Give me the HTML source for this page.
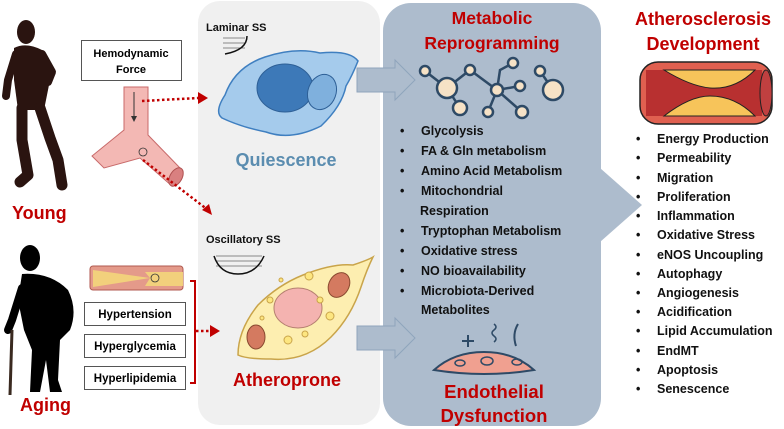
<!DOCTYPE html>
<html><head><meta charset="utf-8"><style>
body{margin:0;background:#fff}
svg{display:block}
text{font-family:"Liberation Sans",sans-serif;font-weight:bold}
.r{fill:#c00000}
.b{font-size:12.5px;fill:#111}
</style></head><body>
<svg width="784" height="429" viewBox="0 0 784 429">
<rect x="198" y="1" width="182" height="424" rx="22" fill="#f0f0f0"/>
<rect x="383" y="3" width="218" height="423" rx="28" fill="#adbccd"/>
<polygon points="600,186 600,168 642,205 600,242 600,226" fill="#adbccd"/>
<g fill="#adbccd" stroke="#8fa4bc" stroke-width="1">
<polygon points="357,68 395,68 395,60 415,80 395,100 395,92 357,92"/>
<polygon points="357,326 395,326 395,318 415,338 395,358 395,350 357,350"/>
</g>
<!-- young silhouette -->
<g fill="#2a1410" stroke="#2a1410" stroke-linecap="round" stroke-linejoin="round">
<ellipse cx="26" cy="32" rx="9" ry="12" stroke="none"/>
<path d="M14,48 Q26,42 42,50 L50,80 L46,100 L44,110 L18,110 L14,80Z" stroke="none"/>
<path d="M16,54 L8,80 L6,96" fill="none" stroke-width="8"/>
<path d="M42,54 L52,72 L48,82" fill="none" stroke-width="8"/>
<path d="M22,108 L22,140 L28,175 L20,182" fill="none" stroke-width="11"/>
<path d="M40,108 L50,138 L58,160 L62,185" fill="none" stroke-width="11"/>
</g>
<!-- old silhouette -->
<g fill="#000" stroke="#000" stroke-linecap="round" stroke-linejoin="round">
<ellipse cx="30" cy="258" rx="10" ry="13" stroke="none"/>
<path d="M22,274 Q50,272 68,290 Q78,310 70,330 L60,340 L58,380 L62,392 L50,392 L46,360 L40,392 L30,392 L32,350 L24,330 L18,300Z" stroke="none"/>
<path d="M22,288 L12,320 L8,330" fill="none" stroke-width="8"/>
</g>
<line x1="12" y1="330" x2="10" y2="395" stroke="#3a2a20" stroke-width="3"/>
<text x="12" y="219" class="r" font-size="18">Young</text>
<text x="20" y="411" class="r" font-size="18">Aging</text>
<rect x="81.5" y="40.5" width="100" height="40" fill="#fff" stroke="#555"/>
<text x="131" y="57" text-anchor="middle" font-size="11">Hemodynamic</text>
<text x="131" y="73" text-anchor="middle" font-size="11">Force</text>
<path d="M124,87 L148,87 L148,135 L180,168 L172,186 L140,158 L104,168 L92,156 L124,130Z" fill="#f3b8b4" stroke="#c86a6a"/>
<ellipse cx="176" cy="177" rx="6" ry="10" fill="#d98080" stroke="#b05050" transform="rotate(30 176 177)"/>
<line x1="134" y1="92" x2="134" y2="120" stroke="#333"/>
<path d="M131,116 l3,6 l3,-6z" fill="#333"/>
<circle cx="143" cy="152" r="4" fill="none" stroke="#333" stroke-width=".8"/>
<g stroke="#c00000" stroke-width="2.5" stroke-dasharray="2.5,2.5" fill="none">
<line x1="142" y1="101" x2="198" y2="98"/>
<line x1="143" y1="160" x2="208" y2="210"/>
<line x1="196" y1="331" x2="210" y2="331"/>
</g>
<path d="M198,92 l10,6 l-10,6z M202,210 l10,5 l-3,-11z M210,325 l10,6 l-10,6z" fill="#c00000"/>
<rect x="90" y="266" width="93" height="24" rx="3" fill="#e49a8a" stroke="#b05a50"/>
<path d="M93,270 L150,278 L93,287Z M145,272 L183,272 L183,286 L145,286 L150,278Z" fill="#f3d67a" opacity=".9"/>
<circle cx="155" cy="278" r="4" fill="none" stroke="#333" stroke-width=".8"/>
<g fill="#fff" stroke="#555">
<rect x="84.5" y="302.5" width="101" height="23"/>
<rect x="84.5" y="334.5" width="101" height="23"/>
<rect x="84.5" y="366.5" width="101" height="23"/>
</g>
<text x="135" y="318" text-anchor="middle" font-size="11.5">Hypertension</text>
<text x="135" y="350" text-anchor="middle" font-size="11.5">Hyperglycemia</text>
<text x="135" y="382" text-anchor="middle" font-size="11.5">Hyperlipidemia</text>
<path d="M190,281 H195 V383 H190" fill="none" stroke="#c00000" stroke-width="2"/>
<text x="206" y="31" font-size="11" fill="#111">Laminar SS</text>
<g stroke="#888" stroke-width="1"><line x1="223" y1="38" x2="245" y2="38"/><line x1="223" y1="43" x2="245" y2="43"/><line x1="223" y1="48" x2="245" y2="48"/></g>
<path d="M247,36 q0,14 -22,18" fill="none" stroke="#111" stroke-width="1.5"/>
<path d="M225,95 q10,-28 40,-38 q30,-10 55,-4 q30,-3 38,8 q-6,15 -12,25 q-4,20 -25,40 q-30,15 -55,6 q-25,-5 -44,-14 q-8,-6 3,-23z" fill="#a5cbec" stroke="#3f7fc0" stroke-width="1.5"/>
<ellipse cx="285" cy="88" rx="28" ry="24" fill="#3d79b8" stroke="#2d5f96"/>
<ellipse cx="322" cy="92" rx="14" ry="18" fill="#7fb0dd" stroke="#2d5f96" transform="rotate(20 322 92)"/>
<text x="286" y="166" text-anchor="middle" font-size="18" fill="#5b8db0">Quiescence</text>
<text x="206" y="243" font-size="11" fill="#111">Oscillatory SS</text>
<g stroke="#888"><line x1="216" y1="256" x2="262" y2="256"/><line x1="216" y1="261" x2="262" y2="261"/><line x1="216" y1="266" x2="262" y2="266"/></g>
<path d="M214,256 q6,18 24,18 q18,0 26,-18" fill="none" stroke="#111" stroke-width="1.5"/>
<path d="M238,355 q0,-25 20,-50 q20,-20 45,-30 q30,-12 50,-10 q15,-5 20,-8 q-6,12 -12,30 q-10,30 -30,50 q-25,25 -60,22 q-25,0 -33,-4z" fill="#fdeeb0" stroke="#c9a44a" stroke-width="1.5"/>
<ellipse cx="298" cy="308" rx="24" ry="20" fill="#f4b3b0" stroke="#b58070"/>
<ellipse cx="339" cy="285" rx="10" ry="13" fill="#d47a60" stroke="#8a4a30" transform="rotate(30 339 285)"/>
<ellipse cx="256" cy="337" rx="9" ry="12" fill="#d47a60" stroke="#8a4a30"/>
<g fill="#fde680" stroke="#c9a44a"><circle cx="309" cy="276" r="4"/><circle cx="330" cy="316" r="4"/><circle cx="288" cy="340" r="4"/><circle cx="305" cy="334" r="3"/><circle cx="270" cy="300" r="3"/><circle cx="262" cy="318" r="2"/><circle cx="320" cy="300" r="3"/><circle cx="281" cy="280" r="2"/></g>
<text x="287" y="386" text-anchor="middle" class="r" font-size="18">Atheroprone</text>
<text x="492" y="24" text-anchor="middle" class="r" font-size="17.5">Metabolic</text>
<text x="492" y="49" text-anchor="middle" class="r" font-size="17.5">Reprogramming</text>
<g stroke="#2e4a66" stroke-width="2.5" fill="none">
<path d="M425,71 L447,88 L470,70 L497,90 L500,70 L513,63 M497,90 L520,86 M497,90 L522,112 M497,90 L488,112 M447,88 L460,108 M540,71 L553,90"/>
</g>
<g fill="#f6e2c6" stroke="#2e4a66" stroke-width="2.5">
<circle cx="425" cy="71" r="5"/><circle cx="447" cy="88" r="10"/><circle cx="470" cy="70" r="5"/><circle cx="497" cy="90" r="6"/><circle cx="513" cy="63" r="5"/><circle cx="520" cy="86" r="5"/><circle cx="522" cy="112" r="6"/><circle cx="488" cy="112" r="5"/><circle cx="460" cy="108" r="7"/><circle cx="540" cy="71" r="5"/><circle cx="553" cy="90" r="10"/>
</g>
<g class="b">
<text x="400" y="135">•</text><text x="421" y="135">Glycolysis</text>
<text x="400" y="155">•</text><text x="421" y="155">FA &amp; Gln metabolism</text>
<text x="400" y="175">•</text><text x="421" y="175">Amino Acid Metabolism</text>
<text x="400" y="195">•</text><text x="421" y="195">Mitochondrial</text>
<text x="420" y="215">Respiration</text>
<text x="400" y="235">•</text><text x="421" y="235">Tryptophan Metabolism</text>
<text x="400" y="255">•</text><text x="421" y="255">Oxidative stress</text>
<text x="400" y="275">•</text><text x="421" y="275">NO bioavailability</text>
<text x="400" y="295">•</text><text x="421" y="295">Microbiota-Derived</text>
<text x="421" y="314">Metabolites</text>
</g>
<path d="M468,335 v12 M462,341 h12" stroke="#2e4a66" stroke-width="2"/>
<path d="M494,324 q4,3 0,6 q-4,3 0,6 q4,3 0,6" stroke="#2e4a66" stroke-width="1.5" fill="none"/>
<path d="M518,324 q-6,10 -2,22" stroke="#2e4a66" stroke-width="2" fill="none"/>
<path d="M434,370 q20,-18 50,-18 q30,0 50,18 q-50,8 -100,0z" fill="#f0a090" stroke="#2e4a66" stroke-width="2"/>
<g fill="none" stroke="#2e4a66" stroke-width="1.5"><ellipse cx="460" cy="363" rx="5" ry="3"/><ellipse cx="487" cy="361" rx="6" ry="4"/><ellipse cx="517" cy="362" rx="5" ry="3"/></g>
<text x="494" y="398" text-anchor="middle" class="r" font-size="18.5">Endothelial</text>
<text x="494" y="422" text-anchor="middle" class="r" font-size="18.5">Dysfunction</text>
<text x="703" y="25" text-anchor="middle" class="r" font-size="18">Atherosclerosis</text>
<text x="703" y="50" text-anchor="middle" class="r" font-size="18">Development</text>
<rect x="640" y="62" width="132" height="62" rx="18" fill="#e06050" stroke="#222" stroke-width="1.5"/>
<rect x="646" y="70" width="116" height="46" fill="#b83030"/>
<path d="M664,70 L755,70 Q735,90 710,88 Q690,86 664,70Z M664,116 L755,116 Q735,96 710,96 Q690,96 664,116Z" fill="#f7c45a" stroke="#222"/>
<ellipse cx="766" cy="93" rx="6" ry="23" fill="#c04040" stroke="#222"/>
<g class="b">
<text x="636" y="143">•</text><text x="657" y="143">Energy Production</text>
<text x="636" y="162">•</text><text x="657" y="162">Permeability</text>
<text x="636" y="182">•</text><text x="657" y="182">Migration</text>
<text x="636" y="201">•</text><text x="657" y="201">Proliferation</text>
<text x="636" y="220">•</text><text x="657" y="220">Inflammation</text>
<text x="636" y="239">•</text><text x="657" y="239">Oxidative Stress</text>
<text x="636" y="259">•</text><text x="657" y="259">eNOS Uncoupling</text>
<text x="636" y="278">•</text><text x="657" y="278">Autophagy</text>
<text x="636" y="297">•</text><text x="657" y="297">Angiogenesis</text>
<text x="636" y="316">•</text><text x="657" y="316">Acidification</text>
<text x="636" y="335">•</text><text x="657" y="335">Lipid Accumulation</text>
<text x="636" y="355">•</text><text x="657" y="355">EndMT</text>
<text x="636" y="374">•</text><text x="657" y="374">Apoptosis</text>
<text x="636" y="393">•</text><text x="657" y="393">Senescence</text>
</g>
</svg>
</body></html>
